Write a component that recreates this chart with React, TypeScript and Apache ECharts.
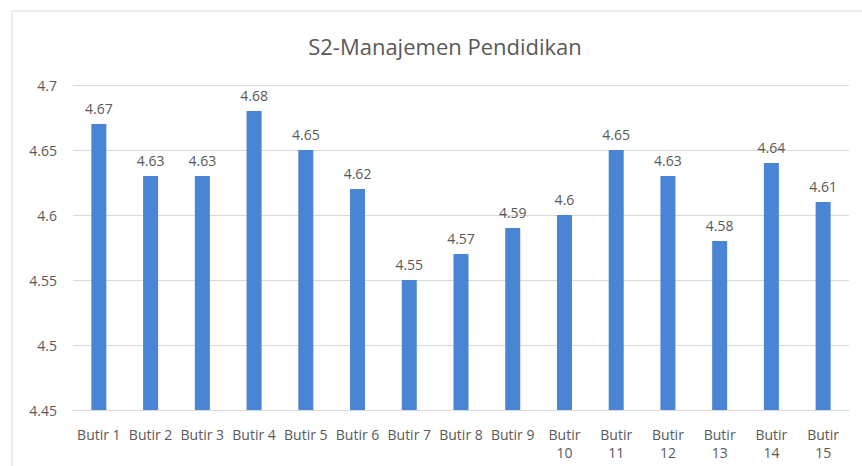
import React, { useEffect, useRef } from "react";
import * as echarts from "echarts";

const title = "S2-Manajemen Pendidikan";
const categories = [
  "Butir 1", "Butir 2", "Butir 3", "Butir 4", "Butir 5", "Butir 6", "Butir 7", "Butir 8",
  "Butir 9", "Butir 10", "Butir 11", "Butir 12", "Butir 13", "Butir 14", "Butir 15",
];
const values = [4.67, 4.63, 4.63, 4.68, 4.65, 4.62, 4.55, 4.57, 4.59, 4.6, 4.65, 4.63, 4.58, 4.64, 4.61];
const yMin = 4.45;
const yMax = 4.7;
const yStep = 0.05;

export default function App() {
  const ref = useRef<HTMLDivElement>(null);
  useEffect(() => {
    if (!ref.current) return;
    const chart = echarts.init(ref.current, null, { renderer: "svg" });
    const font = "'Open Sans', 'Noto Sans', sans-serif";
    chart.setOption({
      animation: false,
      backgroundColor: "#ffffff",
      textStyle: { fontFamily: font },
      graphic: [
        {
          type: "rect",
          shape: { x: 12, y: 11, width: 880, height: 480 },
          style: { fill: "none", stroke: "#d9d9d9", lineWidth: 1 },
          silent: true,
        },
      ],
      title: {
        text: title,
        left: 440,
        textAlign: "center",
        top: 30,
        textStyle: { fontFamily: font, fontSize: 22, fontWeight: "normal", color: "#595959" },
      },
      grid: { left: 73, right: 13, top: 85, bottom: 56, containLabel: false },
      xAxis: {
        type: "category",
        data: categories,
        axisLine: { show: true, lineStyle: { color: "#d9d9d9" } },
        axisTick: { show: false },
        axisLabel: {
          color: "#595959",
          fontSize: 14,
          fontFamily: font,
          margin: 15,
          lineHeight: 18,
          interval: 0,
          formatter: (v: string) => (v.length > 7 ? v.replace(" ", "\n") : v),
        },
      },
      yAxis: {
        type: "value",
        min: yMin,
        max: yMax,
        interval: yStep,
        axisLine: { show: false },
        axisTick: { show: false },
        splitLine: { lineStyle: { color: "#d9d9d9" } },
        axisLabel: {
          color: "#595959",
          fontSize: 14,
          fontFamily: font,
          margin: 16,
          formatter: (v: number) => String(parseFloat(v.toFixed(2))),
        },
      },
      series: [
        {
          type: "bar",
          data: values,
          barWidth: 15,
          itemStyle: { color: "#4a84d4" },
          label: {
            show: true,
            position: "top",
            distance: 9,
            color: "#595959",
            fontSize: 14,
            fontFamily: font,
            formatter: (p: any) => String(p.value),
          },
        },
      ],
    });
    return () => chart.dispose();
  }, []);
  return (
    <div
      ref={ref}
      style={{ position: "fixed", left: 0, top: 0, width: 862, height: 466 }}
    />
  );
}
